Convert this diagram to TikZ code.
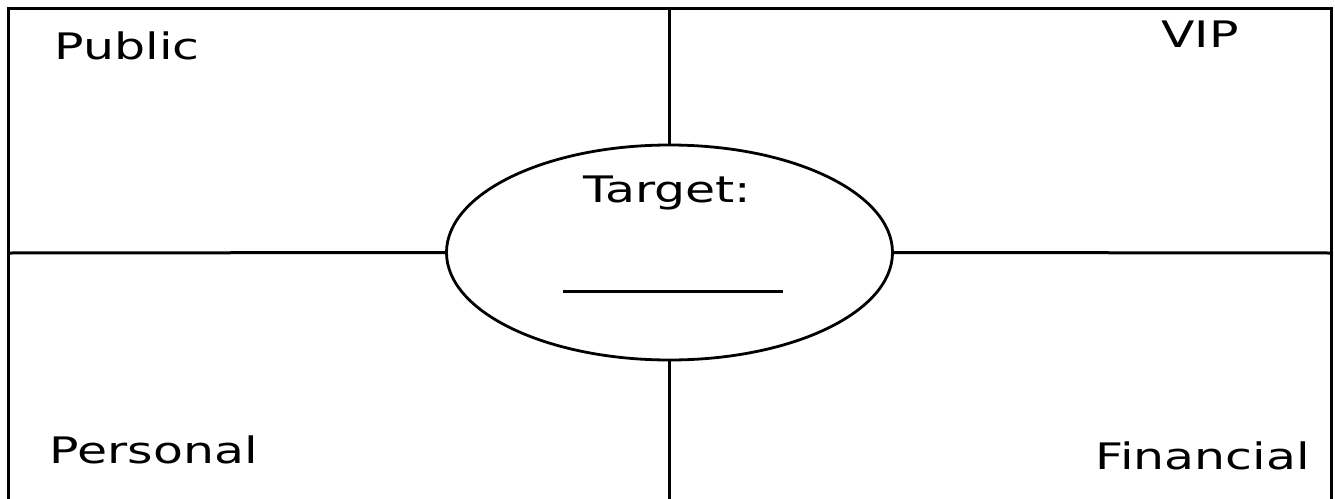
\documentclass[tikz,border=0pt]{standalone}
\usepackage{fontspec}
\setmainfont{DejaVu Sans}
\usetikzlibrary{shapes.geometric}
\tikzset{
  lbl/.style={inner sep=0pt, anchor=base west, font=\fontsize{36.5}{42}\selectfont},
  rule/.style={line width=3pt, black},
}
\newcommand{\wide}[1]{\scalebox{1.34}[1]{#1}}
\begin{document}
\begin{tikzpicture}[x=1pt,y=-1pt]
\useasboundingbox (0,0) rectangle (1335,498);
% frame
\coordinate (tl) at (8,8.5);
\coordinate (tr) at (1331.5,8.5);
\coordinate (bl) at (8,500);
\coordinate (br) at (1331.5,500);
\draw[rule] (bl) -- (tl) -- (tr) -- (br);
% center ellipse
\node[ellipse, draw, line width=2.8pt, minimum width=446pt, minimum height=215pt, inner sep=0pt] (target) at (669.5,252.5) {};
\coordinate (ltop) at (669.5,8.5);
\coordinate (lbot) at (669.5,500);
\coordinate (lleft) at (8,253);
\coordinate (lright) at (1331.5,253);
\draw[rule] (ltop) -- (target.north);
\draw[rule] (target.south) -- (lbot);
\draw[rule] (lleft) -- (target.west);
\draw[rule] (target.east) -- (lright);
% text in ellipse
\node[lbl, anchor=base] (ttl) at (667.5,202) {\wide{Target:}};
\coordinate (ua) at (563,291.5);
\coordinate (ub) at (783,291.5);
\draw[rule] (ua) -- (ub);
% quadrant labels
\node[lbl] (pub) at (54.5,59.5) {\wide{Public}};
\node[lbl] (vip) at (1161,47) {\wide{VIP}};
\node[lbl] (per) at (49.5,463) {\wide{Personal}};
\node[lbl] (fin) at (1095.5,469.5) {\wide{Financial}};
\end{tikzpicture}
\end{document}
